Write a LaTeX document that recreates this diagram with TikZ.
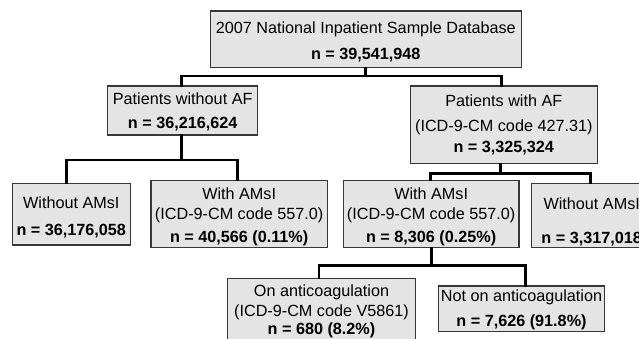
\documentclass[tikz,border=0pt]{standalone}
\usepackage{fontspec}
\setmainfont{Liberation Sans}
\definecolor{boxfill}{RGB}{228,228,228}
\definecolor{boxline}{RGB}{55,55,55}
\newcommand{\lift}[1]{\rule{0pt}{#1pt}}
\begin{document}
\begin{tikzpicture}[x=1pt,y=-1pt,
  box/.style={draw=boxline, line width=1.3pt, fill=boxfill, rectangle, inner sep=0pt,
    align=center, font=\fontsize{16.2}{19}\selectfont},
  conn/.style={draw=black, line width=2.7pt, line join=miter, line cap=rect}]
\useasboundingbox (0,0) rectangle (639,339);
\clip (0,0) rectangle (639,339);
\fill[white] (0,0) rectangle (639,339);

% boxes
\node[box, minimum width=311pt, minimum height=56.7pt] (top) at (365.8,39.35)
  {\lift{16.8}2007 National Inpatient Sample Database\\[6.4pt]\textbf{n = 39,541,948}};
\node[box, minimum width=150pt, minimum height=49pt] (pwo) at (182.7,110.5)
  {\lift{14.8}Patients without AF\\[5.3pt]\textbf{n = 36,216,624}};
\node[box, minimum width=187pt, minimum height=77.7pt] (pw) at (503.8,124.85)
  {Patients with AF\\[6pt](ICD-9-CM code 427.31)\\[2.7pt]\textbf{n = 3,325,324}};
\node[box, minimum width=118pt, minimum height=61.7pt] (wo1) at (71.3,214.15)
  {\lift{17.8}Without AMsI\\[8.3pt]\textbf{n = 36,176,058}};
\node[box, minimum width=176.3pt, minimum height=67pt] (w1) at (239.15,214.2)
  {\lift{17}With AMsI\\[1pt](ICD-9-CM code 557.0)\\[4.4pt]\textbf{n = 40,566 (0.11\%)}};
\node[box, minimum width=175.7pt, minimum height=67pt] (w2) at (431.15,214.2)
  {\lift{17}With AMsI\\[1pt](ICD-9-CM code 557.0)\\[4.4pt]\textbf{n = 8,306 (0.25\%)}};
\node[box, minimum width=120pt, minimum height=64.4pt] (wo2) at (591.7,215.5)
  {\lift{25}Without AMsI\\[15pt]\textbf{n = 3,317,018}};
\node[box, minimum width=188.4pt, minimum height=63.7pt] (on) at (321.5,310.15)
  {\lift{13.8}On anticoagulation\\[0.3pt](ICD-9-CM code V5861)\\[-1pt]\textbf{n = 680 (8.2\%)}};
\node[box, minimum width=166.4pt, minimum height=45.7pt] (non) at (521.5,308.85)
  {\lift{14.2}Not on anticoagulation\\[6pt]\textbf{n = 7,626 (91.8\%)}};

% junctions
\coordinate (j0) at (365.8,76);
\coordinate (j1) at (181.7,160);
\coordinate (j2) at (500.7,173.5);
\coordinate (j3) at (431.2,265.7);

% connectors
\draw[conn] (top.south) -- (j0);
\draw[conn] ([xshift=-1pt]pwo.north) |- (j0) -| ([xshift=-2pt]pw.north);
\draw[conn] ([xshift=-1pt]pwo.south) -- (j1);
\draw[conn] ([xshift=-5pt]wo1.north) |- (j1) -| ([xshift=-2pt]w1.north);
\draw[conn] ([xshift=-3.1pt]pw.south) -- (j2);
\draw[conn] ([xshift=-0.5pt]w2.north) |- (j2) -| ([xshift=-1pt]wo2.north);
\draw[conn] ([xshift=0.05pt]w2.south) -- (j3);
\draw[conn] ([xshift=-2.5pt]on.north) |- (j3) -| ([xshift=4pt]non.north);
\end{tikzpicture}
\end{document}
